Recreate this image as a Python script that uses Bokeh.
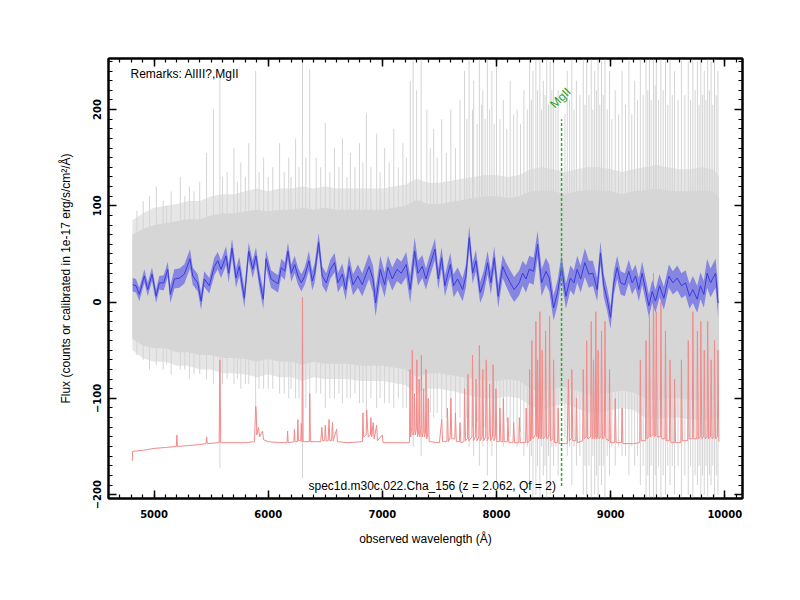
import numpy as np
from bokeh.plotting import figure
from bokeh.models import LinearAxis, Range1d, FixedTicker, Label
from bokeh.embed import file_html
from bokeh.resources import INLINE

# ---------------- data ----------------
# smoothed flux (blue) and its error band
blue_wl = [4813, 4842, 4871, 4915, 4945, 4982, 5018, 5046, 5085, 5120, 5143, 5178, 5222, 5265, 5315, 5339, 5383, 5412, 5440, 5484,
           5528, 5558, 5587, 5631, 5654, 5683, 5718, 5747, 5791, 5829, 5864, 5893, 5922, 5957, 5981, 6025,
           6086, 6115, 6145, 6173, 6202, 6232, 6261, 6290, 6320, 6357, 6386, 6407, 6442, 6474, 6509, 6544, 6582, 6611, 6649, 6679,
           6708, 6743, 6786, 6824, 6883, 6918, 6941, 6982, 7020, 7049, 7087, 7128, 7166, 7209, 7244, 7283, 7312, 7350,
           7382, 7411, 7461, 7490, 7519, 7548, 7595, 7624, 7659, 7703, 7732, 7761, 7791, 7820, 7857, 7887, 7922, 7951, 7980, 8015,
           8054, 8083, 8120, 8155, 8199, 8229, 8258, 8287, 8325, 8360, 8395, 8433, 8462, 8500, 8535, 8570, 8608,
           8647, 8678, 8707, 8737, 8774, 8809, 8844, 8882, 8911, 8940, 8969, 8999, 9028, 9057, 9087, 9124, 9159, 9188, 9218, 9247,
           9276, 9311, 9335, 9364, 9393, 9428, 9466, 9510, 9545, 9583, 9621, 9656, 9691, 9720, 9758, 9787, 9816, 9845, 9875, 9919, 9942]
blue_flux = [18, 17, 8, 27, 13, 29, 6, 20, 20, 34, 8, 24, 25, 29, 45, 27, 20, 1, 24, 17,
             37, 43, 34, 48, 30, 56, 25, 37, 4, 53, 34, 48, 24, 3, 45, 24,
             19, 36, 32, 53, 30, 39, 27, 20, 27, 43, 22, 30, 62, 27, 20, 34, 41, 20, 29, 13,
             37, 18, 27, 18, 37, 24, -1, 34, 18, 36, 24, 34, 30, 39, 13, 53, 30, 37,
             24, 36, 55, 24, 46, 17, 39, 17, 24, 13, 27, 67, 30, 43, 10, 20, 41, 20, 46, 6,
             37, 29, 20, 13, 20, 30, 24, 34, 32, 60, 20, 32, 25, -6, 10, 36, 6,
             25, 20, 34, 24, 41, 29, 30, 13, 51, 17, 3, -16, 20, 36, 20, 18, 32, 20, 27, 13,
             30, 10, -4, 11, 1, 17, 4, 27, 20, 25, 17, 20, 6, 13, 3, 17, 8, 30, 20, 30, -1]
blue_err = [7, 7, 7, 7, 7, 7, 7, 7, 8, 8, 9, 10, 10, 10, 10, 9, 9, 9, 8, 8,
            9, 9, 9, 10, 10, 10, 10, 10, 10, 9, 9, 9, 9, 10, 9, 9,
            9, 9, 9, 9, 9, 9, 9, 9, 9, 10, 10, 10, 10, 10, 10, 10, 10, 10, 11, 11,
            11, 11, 12, 12, 13, 14, 14, 14, 13, 12, 12, 12, 12, 13, 14, 14, 13, 12,
            11, 11, 11, 11, 11, 11, 12, 12, 12, 12, 12, 12, 11, 11, 11, 12, 12, 12, 12, 12,
            12, 12, 13, 13, 13, 13, 14, 14, 14, 14, 14, 14, 14, 13, 13, 13, 13,
            13, 13, 14, 14, 15, 14, 13, 12, 12, 12, 12, 12, 12, 12, 12, 12, 12, 12, 12, 12,
            12, 12, 12, 12, 12, 12, 12, 12, 12, 13, 13, 13, 13, 14, 14, 14, 14, 15, 15, 15, 15]

# raw spectrum (grey) envelopes
env_wl = [4810, 4900, 5000, 5100, 5200, 5300, 5400, 5500, 5600, 5700, 5800, 5900, 6000, 6100, 6200, 6300, 6400, 6500,
          6600, 6700, 6800, 6900, 7000, 7100, 7200, 7300, 7400, 7500, 7600, 7700, 7800, 7900, 8000, 8100, 8200, 8300,
          8400, 8500, 8600, 8700, 8800, 8900, 9000, 9100, 9200, 9300, 9400, 9500, 9600, 9700, 9800, 9900, 9950]
outer_hi = [85, 92, 98, 100, 102, 105, 105, 110, 112, 112, 115, 118, 115, 118, 118, 120, 118, 120,
            118, 118, 118, 118, 118, 120, 122, 128, 124, 124, 126, 128, 130, 132, 132, 130, 132, 138,
            140, 138, 135, 138, 140, 140, 138, 135, 138, 140, 142, 140, 138, 138, 140, 138, 130]
outer_lo = [-50, -58, -62, -62, -66, -66, -70, -70, -74, -74, -75, -78, -75, -78, -78, -82, -78, -80,
            -80, -80, -82, -82, -82, -84, -86, -95, -90, -90, -92, -95, -98, -100, -100, -98, -100, -108,
            -112, -108, -105, -110, -115, -115, -112, -110, -112, -120, -122, -120, -120, -122, -122, -122, -118]
core_hi = [70, 76, 80, 82, 84, 86, 86, 90, 92, 92, 94, 96, 94, 96, 96, 98, 96, 98,
           96, 96, 96, 96, 96, 98, 100, 106, 102, 102, 104, 106, 108, 110, 110, 108, 110, 115,
           116, 115, 112, 115, 116, 116, 115, 112, 115, 116, 118, 116, 115, 115, 116, 115, 108]
core_lo = [-38, -45, -48, -48, -52, -52, -55, -55, -58, -58, -59, -62, -59, -62, -62, -65, -62, -64,
           -64, -64, -66, -66, -66, -68, -70, -78, -74, -74, -76, -78, -80, -82, -82, -80, -82, -90,
           -94, -90, -88, -92, -96, -96, -94, -92, -94, -100, -102, -100, -100, -102, -102, -102, -98]

# raw spectrum (grey) noise spikes
spike_wl = [4850, 4905, 4960, 5020, 5080, 5150, 5230, 5310, 5400, 5460, 5520, 5577, 5640, 5700, 5760, 5830, 5890, 5960,
            6040, 6100, 6180, 6240, 6300, 6364, 6420, 6500, 6580, 6650, 6720, 6800, 6860, 6950, 7020, 7100, 7180, 7245,
            7270, 7300, 7340, 7390, 7450, 7520, 7600, 7680, 7720, 7760, 7800, 7850, 7880, 7920, 7960, 8000, 8060, 8120,
            8180, 8240, 8290, 8320, 8345, 8380, 8410, 8440, 8470, 8500, 8540, 8620, 8660, 8700, 8760, 8790, 8830, 8860,
            8890, 8920, 8950, 8990, 9040, 9100, 9160, 9210, 9260, 9310, 9340, 9375, 9400, 9440, 9480, 9520, 9560, 9620,
            9680, 9720, 9760, 9790, 9820, 9850, 9880, 9910, 9940,
            7740, 7790, 7830, 7870, 7900, 7940, 7980, 8030, 8090, 8150, 8210, 8270, 8305, 8360, 8395, 8425, 8455, 8485,
            8520, 8600, 8640, 8680, 8730, 8775, 8810, 8845, 8875, 8905, 8935, 8970, 9010, 9070, 9130, 9185, 9235, 9285,
            9325, 9355, 9390, 9420, 9460, 9500, 9540, 9590, 9650, 9700, 9740, 9775, 9805, 9835, 9865, 9895, 9925,
            5110, 5270, 5350, 5600, 5730, 5800, 5920, 6000, 6140, 6200, 6270, 6330, 6460, 6540, 6620, 6690, 6760, 6830,
            6900, 6980, 7060, 7140, 7210, 7420, 7480, 7560, 7640]
spike_top = [95, 105, 110, 120, 105, 115, 130, 120, 125, 155, 200, 237, 135, 160, 145, 165, 240, 150,
             140, 165, 150, 170, 270, 242, 150, 186, 160, 170, 155, 165, 196, 175, 160, 180, 165, 230,
             270, 220, 270, 200, 180, 190, 200, 210, 240, 270, 230, 270, 220, 270, 240, 270, 210, 230,
             200, 220, 270, 240, 270, 270, 230, 270, 250, 270, 220, 240, 270, 230, 270, 250, 270, 240,
             270, 250, 270, 240, 220, 240, 270, 230, 270, 270, 270, 270, 250, 270, 250, 270, 240, 270,
             250, 270, 250, 270, 240, 270, 250, 270, 240,
             190, 200, 185, 205, 190, 200, 185, 190, 180, 195, 185, 200, 210, 220, 200, 215, 205, 220,
             200, 195, 210, 200, 215, 205, 215, 200, 220, 205, 215, 200, 190, 195, 205, 195, 210, 215,
             220, 210, 225, 210, 220, 205, 215, 210, 215, 210, 220, 205, 215, 210, 220, 205, 215,
             100, 110, 115, 130, 125, 130, 135, 130, 135, 130, 140, 150, 140, 135, 140, 130, 140, 145,
             140, 135, 145, 140, 150, 160, 150, 155, 160]
spike_bot = [-55, -60, -70, -65, -70, -75, -70, -80, -75, -80, -85, -172, -80, -85, -90, -85, -110, -90,
             -90, -95, -100, -100, -183, -120, -95, -110, -100, -105, -100, -105, -115, -110, -105, -110, -110, -140,
             -150, -130, -160, -140, -120, -125, -130, -120, -140, -150, -160, -170, -150, -180, -160, -190, -150, -140,
             -150, -160, -190, -210, -200, -210, -180, -210, -200, -170, -180, -160, -190, -170, -200, -210, -210, -200,
             -210, -190, -210, -180, -170, -160, -180, -170, -190, -210, -210, -210, -200, -210, -200, -190, -200, -210,
             -200, -210, -190, -210, -200, -210, -190, -210, -200,
             -120, -130, -125, -140, -130, -135, -140, -130, -125, -130, -135, -150, -160, -170, -150, -170, -160, -150,
             -150, -140, -150, -150, -160, -170, -170, -160, -180, -170, -170, -160, -150, -150, -160, -150, -160, -170,
             -180, -170, -180, -170, -180, -170, -170, -170, -180, -170, -180, -170, -180, -170, -180, -170, -180,
             -65, -70, -75, -85, -80, -85, -90, -90, -95, -90, -100, -110, -95, -100, -95, -100, -95, -105,
             -100, -100, -105, -100, -110, -115, -115, -120, -115]

# sky spectrum (red, scaled and offset)
red_wl = [4810, 4812, 4900, 5000, 5100, 5195, 5200, 5205, 5300, 5400, 5455, 5461, 5467, 5570, 5577, 5584, 5700, 5800,
          5880, 5890, 5895, 5900, 5915, 5925, 5950, 5960, 6000, 6100, 6165, 6170, 6175, 6225, 6230, 6235, 6255, 6260,
          6265, 6285, 6290, 6296, 6300, 6306, 6360, 6364, 6370, 6460, 6470, 6478, 6495, 6500, 6508, 6525, 6533, 6540,
          6555, 6563, 6570, 6600, 6606, 6700, 6825, 6830, 6836, 6858, 6863, 6870, 6877, 6895, 6900, 6907, 6920, 6928,
          6950, 6957, 7000, 7006, 7100, 7200, 7238, 7242, 7248, 7258, 7262, 7268, 7278, 7282, 7288, 7298, 7302, 7308,
          7318, 7322, 7328, 7338, 7342, 7348, 7358, 7362, 7368, 7378, 7382, 7388, 7398, 7402, 7410, 7500, 7520, 7528,
          7565, 7570, 7578, 7595, 7600, 7608, 7635, 7640, 7648, 7675, 7680, 7688, 7715, 7720, 7728, 7745, 7750, 7758,
          7785, 7790, 7798, 7815, 7820, 7828, 7845, 7850, 7858, 7875, 7880, 7888, 7905, 7910, 7918, 7935, 7940, 7948,
          7965, 7970, 7978, 7990, 7995, 8003, 8025, 8030, 8038, 8055, 8060, 8068, 8095, 8100, 8108, 8145, 8150, 8158,
          8195, 8200, 8208, 8255, 8260, 8268, 8285, 8290, 8298, 8305, 8310, 8318, 8340, 8345, 8352, 8356, 8360, 8368,
          8375, 8380, 8388, 8395, 8400, 8408, 8425, 8430, 8438, 8460, 8465, 8473, 8495, 8500, 8508, 8535, 8540, 8548,
          8620, 8630, 8638, 8655, 8660, 8668, 8695, 8700, 8708, 8755, 8760, 8768, 8785, 8790, 8798, 8825, 8830, 8838,
          8845, 8850, 8858, 8865, 8870, 8878, 8885, 8890, 8898, 8915, 8920, 8928, 8945, 8950, 8958, 8985, 8990, 8998,
          9035, 9040, 9048, 9095, 9100, 9108, 9200, 9255, 9260, 9268, 9305, 9310, 9318, 9335, 9340, 9348, 9370, 9375,
          9383, 9395, 9400, 9408, 9435, 9440, 9448, 9475, 9480, 9488, 9515, 9520, 9528, 9555, 9560, 9568, 9615, 9620,
          9628, 9675, 9680, 9688, 9715, 9720, 9728, 9755, 9760, 9768, 9785, 9790, 9798, 9815, 9820, 9828, 9845, 9850,
          9858, 9875, 9880, 9888, 9905, 9910, 9918, 9935, 9940, 9948]
red_flux = [-165, -155, -154, -152, -151, -150, -138, -150, -149, -148, -147, -140, -147, -146, -60, -146, -146, -146,
            -145, -108, -112, -138, -130, -140, -134, -143, -145, -146, -146, -134, -146, -145, -132, -145, -145, -122,
            -144, -144, -126, -145, 5, -145, -145, -95, -145, -145, -130, -144, -144, -128, -144, -144, -122, -144,
            -144, -125, -144, -132, -145, -146, -145, -115, -140, -138, -112, -130, -140, -138, -120, -140, -125, -142,
            -128, -144, -138, -146, -146, -146, -146, -70, -140, -130, -50, -138, -135, -95, -138, -132, -60, -140,
            -135, -80, -140, -132, -55, -140, -135, -90, -140, -135, -70, -142, -138, -100, -145, -146, -122, -145,
            -145, -110, -145, -140, -100, -142, -142, -115, -145, -145, -125, -146, -145, -90, -144, -142, -75, -144,
            -140, -55, -144, -140, -80, -144, -140, -45, -144, -140, -70, -144, -140, -60, -144, -140, -85, -144,
            -140, -65, -144, -140, -90, -145, -145, -110, -145, -145, -100, -145, -145, -120, -146, -146, -125, -146,
            -146, -120, -146, -146, -110, -146, -145, -70, -144, -140, -40, -142, -138, -20, -140, -138, -60, -142,
            -140, -10, -142, -140, -50, -142, -140, -30, -142, -140, -15, -144, -142, -60, -146, -146, -110, -147,
            -147, -80, -144, -142, -70, -144, -144, -100, -146, -144, -70, -142, -140, -40, -142, -140, -20, -142,
            -140, -60, -142, -140, -10, -142, -140, -50, -142, -140, -30, -142, -140, -20, -142, -144, -70, -146,
            -146, -100, -146, -146, -110, -147, -147, -146, -60, -144, -144, -40, -142, -140, -15, -140, -138, 30,
            -140, -138, -10, -140, -140, 0, -142, -142, -30, -144, -144, -60, -146, -146, -80, -146, -146, -60,
            -144, -144, -40, -142, -142, -10, -142, -142, -30, -142, -140, -20, -142, -140, -50, -142, -140, -20,
            -142, -140, -60, -142, -140, -40, -142, -140, -50, -145]

# emission line marker and annotations
line_names = ["MgII"]
line_wl = [8570]
x_ticks = [5000, 6000, 7000, 8000, 9000, 10000]
y_ticks = [-200, -100, 0, 100, 200]
remarks = "Remarks: AlIII?,MgII"
title_text = "spec1d.m30c.022.Cha_156 (z = 2.062, Qf = 2)"

# ---------------- figure ----------------
p = figure(frame_width=634, frame_height=440,
           min_border_left=108, min_border_right=34, min_border_top=58, min_border_bottom=78,
           x_range=Range1d(4601, 10155), y_range=Range1d(-204, 253),
           output_backend="svg", toolbar_location=None)
p.xgrid.visible = False
p.ygrid.visible = False
p.outline_line_color = "black"
p.outline_line_width = 2
p.background_fill_color = "white"
p.border_fill_color = "white"

GREY_OUT = "#e6e6e6"
GREY_CORE = "#d6d6d6"
p.varea(x=env_wl, y1=outer_lo, y2=outer_hi, fill_color=GREY_OUT)
p.segment(x0=spike_wl, y0=spike_bot, x1=spike_wl, y1=spike_top, line_color="#d4d4d4", line_width=1)
p.varea(x=env_wl, y1=core_lo, y2=core_hi, fill_color=GREY_CORE)

p.line(red_wl, red_flux, line_color="#f28a8a", line_width=1)

bf = np.array(blue_flux, dtype=float)
be = np.array(blue_err, dtype=float)
p.varea(x=blue_wl, y1=bf - be, y2=bf + be, fill_color="#7878e4", fill_alpha=0.85)
p.line(blue_wl, blue_flux, line_color="#3b3bdc", line_width=1)

# MgII marker
p.segment(x0=line_wl, y0=[-191], x1=line_wl, y1=[190], line_color="#20b020", line_width=1.5, line_dash="3 2")
p.add_layout(Label(x=line_wl[0] - 9, y=212, text=line_names[0], angle=45, angle_units="deg",
                   text_align="center", text_baseline="middle", text_color="#20a020",
                   text_font="Liberation Sans", text_font_size="12px"))

p.add_layout(Label(x=4794, y=237, text=remarks, text_align="left", text_baseline="middle",
                   text_font="Liberation Sans", text_font_size="12px", text_color="black"))
p.add_layout(Label(x=6353, y=-191, text=title_text, text_align="left", text_baseline="middle",
                   text_font="Liberation Sans", text_font_size="12px", text_color="black"))

# ---------------- axes ----------------
xt = FixedTicker(ticks=x_ticks, minor_ticks=list(range(4700, 10200, 100)))
yt = FixedTicker(ticks=y_ticks, minor_ticks=list(range(-200, 251, 10)))


def style(ax, labels=True):
    ax.axis_line_width = 2
    ax.axis_line_color = "black"
    ax.major_tick_in = 8
    ax.major_tick_out = 0
    ax.minor_tick_in = 4
    ax.minor_tick_out = 0
    ax.major_tick_line_width = 1.5
    ax.minor_tick_line_width = 1.2
    ax.major_tick_line_color = "black"
    ax.minor_tick_line_color = "black"
    ax.major_label_text_font = "DejaVu Sans"
    ax.major_label_text_font_style = "bold"
    ax.major_label_text_font_size = "10px"
    ax.major_label_text_color = "black"
    ax.axis_label_text_color = "black"
    if not labels:
        ax.major_label_text_alpha = 0
        ax.major_label_text_font_size = "1px"


xa = p.xaxis[0]
xa.ticker = xt
style(xa)
xa.major_label_standoff = 11
xa.axis_label = "observed wavelength (Å)"
xa.axis_label_text_font = "Liberation Sans"
xa.axis_label_text_font_style = "normal"
xa.axis_label_text_font_size = "12px"
xa.axis_label_standoff = 11

ya = p.yaxis[0]
ya.ticker = yt
style(ya)
ya.major_label_orientation = "vertical"
ya.major_label_standoff = 7
ya.axis_label = "Flux (counts or calibrated in 1e-17 erg/s/cm²/Å)"
ya.axis_label_text_font = "Liberation Sans"
ya.axis_label_text_font_style = "normal"
ya.axis_label_text_font_size = "12px"
ya.axis_label_standoff = 18

top = LinearAxis(ticker=xt)
style(top, labels=False)
p.add_layout(top, "above")
right = LinearAxis(ticker=yt)
style(right, labels=False)
p.add_layout(right, "right")

open("out.html", "w").write(file_html(p, INLINE))
